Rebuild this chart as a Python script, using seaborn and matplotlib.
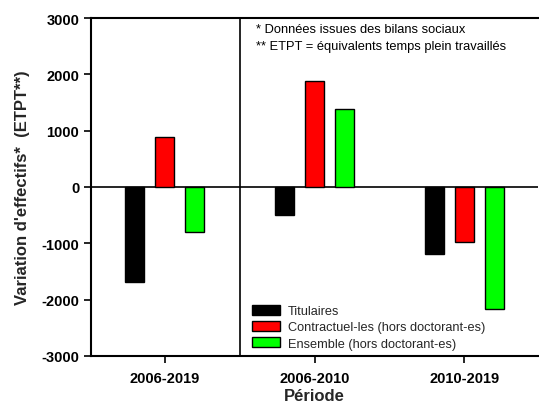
import pandas as pd
import matplotlib
matplotlib.use('Agg')
import matplotlib.pyplot as plt
import seaborn as sns

periods = ['2006-2019', '2006-2010', '2010-2019']
series = ['Titulaires', 'Contractuel-les (hors doctorant-es)', 'Ensemble (hors doctorant-es)']
titulaires = [-1680, -500, -1190]
contractuels = [890, 1880, -980]
ensemble = [-800, 1390, -2170]
colors = ['#000000', '#ff0000', '#00ff00']

rows = []
for name, vals in zip(series, [titulaires, contractuels, ensemble]):
    for p, v in zip(periods, vals):
        rows.append({'Période': p, 'serie': name, 'val': v})
df = pd.DataFrame(rows)

sns.set_style('white')
plt.rcParams['font.family'] = ['Liberation Sans', 'DejaVu Sans']
plt.rcParams['axes.unicode_minus'] = False

fig = plt.figure(figsize=(5.39, 4.06), dpi=100)
ax = fig.add_axes([0.169, 0.121, 0.829, 0.832])

sns.barplot(data=df, x='Période', y='val', hue='serie', palette=colors, saturation=1,
            width=0.6, gap=0.35, edgecolor='black', linewidth=1.0, ax=ax)

ax.set_ylim(-3000, 3000)
ax.set_xlim(-0.49, 2.49)
ax.set_yticks(range(-3000, 3001, 1000))
ax.axhline(0, color='black', lw=1.2, zorder=0.5)
ax.axvline(0.5, color='black', lw=1.2)

for s in ['left', 'bottom', 'top']:
    ax.spines[s].set_color('black')
    ax.spines[s].set_linewidth(1.5)
ax.spines['right'].set_visible(False)

ax.tick_params(axis='both', direction='out', length=5, width=1.2, colors='black',
               labelsize=10.5, left=True, bottom=True)
ax.tick_params(axis='x', pad=6)
for lab in ax.get_xticklabels() + ax.get_yticklabels():
    lab.set_fontweight('bold')

ax.set_xlabel('Période', fontsize=12, fontweight='bold', labelpad=2)
ax.set_ylabel("Variation d'effectifs*  (ETPT**)", fontsize=12, fontweight='bold', labelpad=8)

ax.text(0.369, 0.984, '* Données issues des bilans sociaux', transform=ax.transAxes,
        fontsize=9.3, va='top', ha='left', color='black')
ax.text(0.369, 0.936, '** ETPT = équivalents temps plein travaillés', transform=ax.transAxes,
        fontsize=9.3, va='top', ha='left', color='black')

ax.legend(loc='lower left', bbox_to_anchor=(0.34, -0.008), frameon=False,
          fontsize=9.2, handlelength=2.2, handleheight=0.8, handletextpad=0.6,
          labelspacing=0.3, borderaxespad=0.3)

fig.savefig('out.png', dpi=100)
